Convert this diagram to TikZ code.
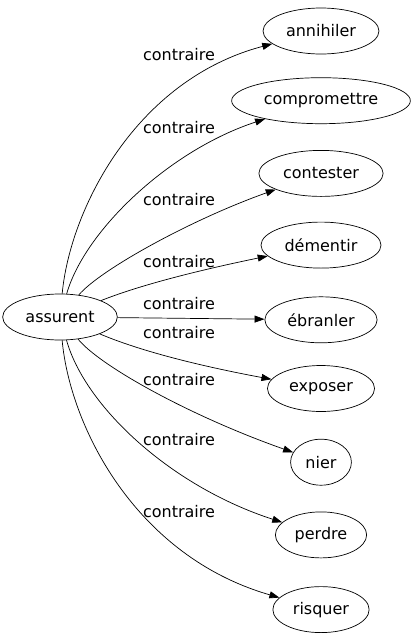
\documentclass[tikz,border=0pt]{standalone}
\usepackage{fontspec}
\setmainfont{DejaVu Sans}
\usetikzlibrary{positioning,shapes.geometric,arrows.meta}

\begin{document}
\begin{tikzpicture}[x=1pt,y=-1pt,
motnode/.style={ellipse, draw=black, line width=0.7pt, inner xsep=6pt, inner ysep=2pt, minimum height=46pt, font=\fontsize{16}{18}\selectfont},
etiqnode/.style={inner sep=0pt, font=\fontsize{16}{18}\selectfont},
lien/.style={-{Triangle[length=10pt,width=7pt]}, line width=0.7pt},
]
\useasboundingbox (0,0) rectangle (413,635);

%Nodes
%%% Mot source
\node[motnode]      (assurent)     at (60,317) {assurent};

%%% Contraires
\node[motnode]      (annihiler)    at (321,31) {annihiler};
\node[motnode]      (compromettre) [below=23pt of annihiler] {compromettre};
\node[motnode]      (contester)    [below=26pt of compromettre] {contester};
\node[motnode]      (dementir)     [below=25pt of contester] {démentir};
\node[motnode]      (ebranler)     [below=28pt of dementir] {ébranler};
\node[motnode]      (exposer)      [below=22pt of ebranler] {exposer};
\node[motnode]      (nier)         [below=27pt of exposer] {nier};
\node[motnode]      (perdre)       [below=26pt of nier] {perdre};
\node[motnode]      (risquer)      [below=28pt of perdre] {risquer};

%%% Etiquettes
\node[etiqnode]     (etiqUn)       at (179,55)  {contraire};
\node[etiqnode]     (etiqDeux)     at (179,128) {contraire};
\node[etiqnode]     (etiqTrois)    at (179,200) {contraire};
\node[etiqnode]     (etiqQuatre)   at (179,262) {contraire};
\node[etiqnode]     (etiqCinq)     at (179,304) {contraire};
\node[etiqnode]     (etiqSix)      at (179,333) {contraire};
\node[etiqnode]     (etiqSept)     at (179,380) {contraire};
\node[etiqnode]     (etiqHuit)     at (179,440) {contraire};
\node[etiqnode]     (etiqNeuf)     at (179,512) {contraire};

%Lines
%%% Vers le haut
\draw[lien] (assurent) .. controls (70,210) and (135,80) .. (annihiler);
\draw[lien] (assurent) .. controls (85,230) and (170,150) .. (compromettre);
\draw[lien] (assurent) .. controls (100,270) and (190,220) .. (contester);
\draw[lien] (assurent) .. controls (140,285) and (200,270) .. (dementir);

%%% Horizontal
\draw[lien] (assurent) -- (ebranler);

%%% Vers le bas
\draw[lien] (assurent) .. controls (140,351) and (200,366) .. (exposer);
\draw[lien] (assurent) .. controls (100,366) and (190,416) .. (nier);
\draw[lien] (assurent) .. controls (85,406) and (170,486) .. (perdre);
\draw[lien] (assurent) .. controls (70,426) and (135,556) .. (risquer);

\end{tikzpicture}
\end{document}
